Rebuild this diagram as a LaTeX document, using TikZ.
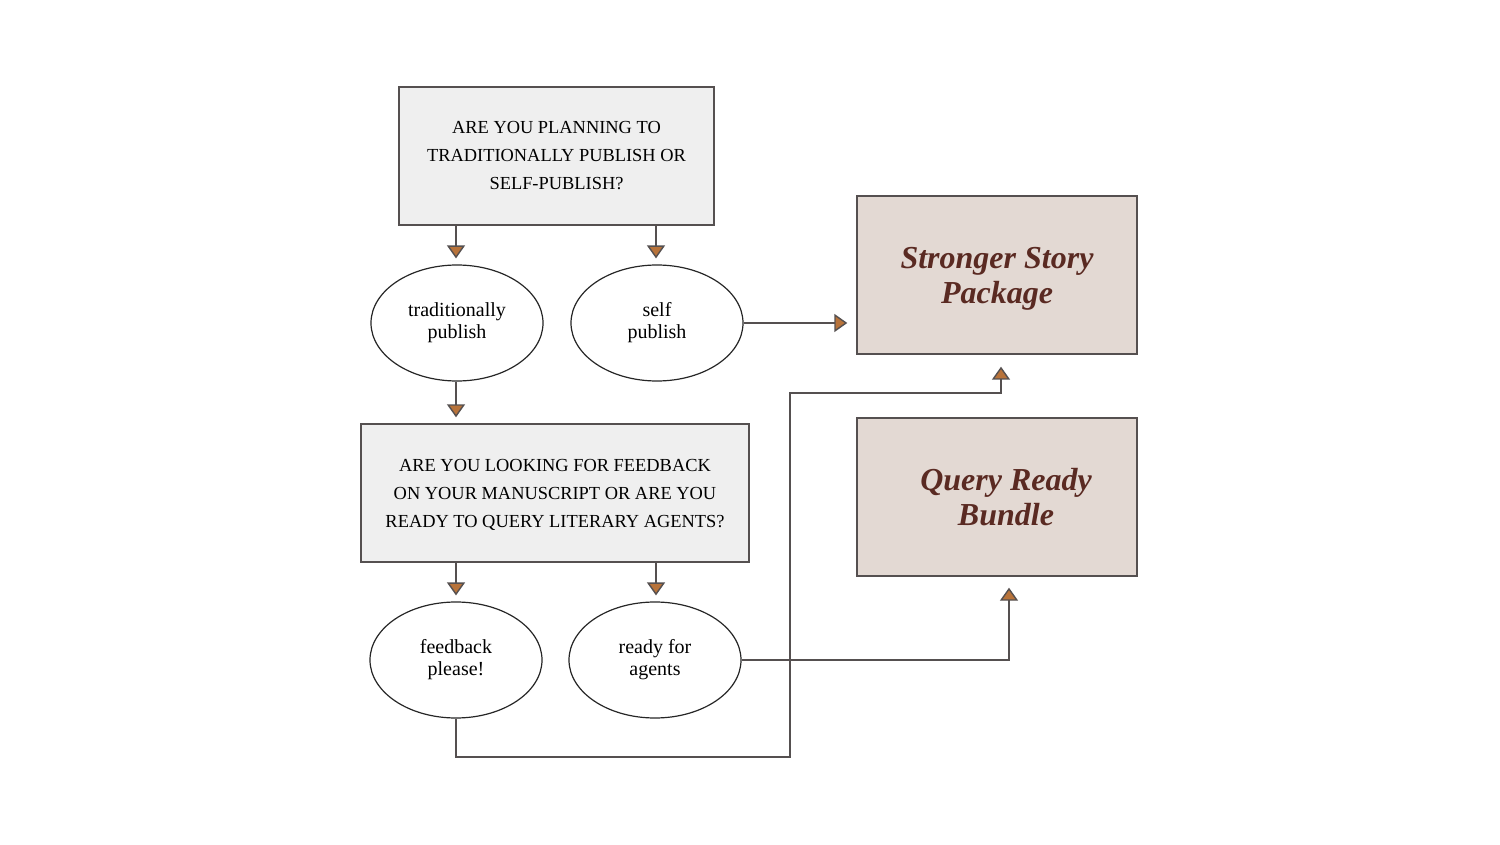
\documentclass[tikz,border=0pt]{standalone}
\usepackage{fontspec}
\setmainfont{Liberation Serif}
\usetikzlibrary{arrows.meta,shapes.geometric}
\definecolor{qgray}{HTML}{EFEFEF}
\definecolor{qedge}{HTML}{555050}
\definecolor{pfill}{HTML}{E3D9D3}
\definecolor{ptext}{HTML}{5A2A22}
\definecolor{copper}{HTML}{B8733A}
\tikzset{
  qbox/.style={draw=qedge, line width=0.7pt, fill=qgray, minimum width=#1, minimum height=69pt, align=center, font=\fontsize{9.2}{14}\selectfont, inner sep=0pt},
  pbox/.style={draw=qedge, line width=0.7pt, fill=pfill, minimum width=140pt, minimum height=79pt, align=center, text=ptext, font=\fontsize{16}{17.5}\selectfont\bfseries\itshape, inner sep=0pt},
  oval/.style={draw=black!85, line width=0.6pt, ellipse, minimum width=86pt, minimum height=58pt, inner sep=0pt, align=center, font=\fontsize{10}{11}\selectfont},
  arr/.style={draw=qedge, line width=0.7pt, -{Triangle[width=9pt,length=6.5pt,fill=copper]}},
}
\begin{document}
\begin{tikzpicture}[x=0.5pt,y=-0.5pt]
\useasboundingbox (0,0) rectangle (1500,845);
\node[qbox=157.5pt] (q1) at (556.5,156) {ARE YOU PLANNING TO\\TRADITIONALLY PUBLISH OR\\SELF-PUBLISH?};
\node[oval] (trad) at (457,323) {traditionally\\publish};
\node[oval] (self) at (657,323) {self\\publish};
\node[qbox=194pt, text depth=0pt] (q2) at (555,493) {ARE YOU LOOKING FOR FEEDBACK\\ON YOUR MANUSCRIPT OR ARE YOU\\READY TO QUERY LITERARY AGENTS?};
\node[oval] (fb) at (456,660) {feedback\\please!};
\node[oval] (ready) at (655,660) {ready for\\agents};
\node[pbox, text depth=0pt] (ssp) at (997,275) {Stronger Story\\Package};
\node[pbox, text depth=0pt] (qrb) at (997,497) {\hspace*{9pt}Query Ready\\\hspace*{9pt}Bundle};
\coordinate (c1) at (790,757);
\coordinate (c2) at (790,393);
\coordinate (c3) at (1001,393);
\coordinate (c4) at (1009,660);
\draw[arr, shorten >=3pt] (q1.south -| 456,0) -- (trad.north -| 456,0);
\draw[arr, shorten >=3pt] (q1.south -| 656,0) -- (self.north -| 656,0);
\draw[arr, shorten >=3pt] (trad.south -| 456,0) -- (q2.north -| 456,0);
\draw[arr, shorten >=3pt] (q2.south -| 456,0) -- (fb.north -| 456,0);
\draw[arr, shorten >=3pt] (q2.south -| 656,0) -- (ready.north -| 656,0);
\draw[arr, shorten >=4.5pt] (self.east) -- (ssp.west |- self.east);
\draw[arr, shorten >=6pt] (fb.south) -- (fb.south |- c1) -- (c1) -- (c2) -- (c3) -- (ssp.south -| c3);
\draw[arr, shorten >=5.5pt] (ready.east) -- (c4) -- (qrb.south -| c4);
\end{tikzpicture}
\end{document}
